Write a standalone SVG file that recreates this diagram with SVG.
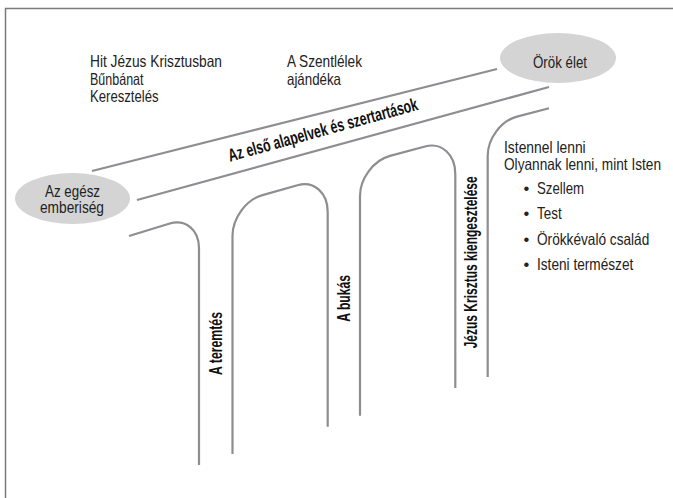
<svg xmlns="http://www.w3.org/2000/svg" width="673" height="498" viewBox="0 0 673 498">
<style>
.conn{fill:none;stroke:#8e8e92;stroke-width:2.2;stroke-linecap:butt;}
.node{fill:#d4d4d4;stroke:none;}
.t{font-family:"Liberation Sans Narrow","Liberation Sans",Arial,sans-serif;font-size:16.5px;fill:#222;}
.b{font-family:"Liberation Sans Narrow","Liberation Sans",Arial,sans-serif;font-size:18px;font-weight:bold;fill:#111;}
</style>
<rect x="0" y="0" width="673" height="498" fill="#fff"/>
<path d="M5.5,498 L5.5,8.5 L673,8.5" fill="none" stroke="#7a7a7a" stroke-width="1.5"/>
<g id="connectors">
<line class="conn" x1="92" y1="171" x2="497" y2="69"/>
<line class="conn" x1="137" y1="200" x2="549" y2="87"/>
<path class="conn" d="M129,236 L169,223.7 C185.5,218.6 199,229.7 199,248 L199,465"/>
<path class="conn" d="M232.5,454 L232.5,236 C232.5,218.1 246,199.7 262.5,195.1 L297.5,185.2 C314.1,180.5 327.7,192.6 327.7,212 L327.7,426.7"/>
<path class="conn" d="M360,415.7 L360,196 C360,178.4 373.5,160.4 390,155.9 L425,146.5 C441.7,142 455.3,154.4 455.3,174 L455.3,388"/>
<path class="conn" d="M487.7,377 L487.7,156 C487.7,138.5 500.9,120.8 517,116.6 L549,108.3"/>
</g>
<g id="node-emberiseg">
<ellipse class="node" cx="72.5" cy="198.5" rx="57.5" ry="25.5"/>
<text class="t" x="45" y="196.7" textLength="55" lengthAdjust="spacingAndGlyphs">Az egész</text>
<text class="t" x="40" y="213.3" textLength="64" lengthAdjust="spacingAndGlyphs">emberiség</text>
</g>
<g id="node-orok-elet">
<ellipse class="node" cx="558" cy="58" rx="58" ry="25"/>
<text class="t" x="533" y="68" textLength="54" lengthAdjust="spacingAndGlyphs">Örök élet</text>
</g>
<g id="label-hit">
<text class="t" x="90" y="67" textLength="132" lengthAdjust="spacingAndGlyphs">Hit Jézus Krisztusban</text>
<text class="t" x="90" y="84.5" textLength="53.5" lengthAdjust="spacingAndGlyphs">Bűnbánat</text>
<text class="t" x="90" y="102" textLength="68.5" lengthAdjust="spacingAndGlyphs">Keresztelés</text>
</g>
<g id="label-szentlelek">
<text class="t" x="287" y="67" textLength="75" lengthAdjust="spacingAndGlyphs">A Szentlélek</text>
<text class="t" x="287" y="84.5" textLength="54" lengthAdjust="spacingAndGlyphs">ajándéka</text>
</g>
<g id="label-alapelvek">
<text class="b" x="0" y="0" transform="translate(230,161.7) rotate(-15.4)" textLength="196" lengthAdjust="spacingAndGlyphs">Az első alapelvek és szertartások</text>
</g>
<g id="label-teremtes">
<text class="b" x="0" y="0" transform="translate(222,375) rotate(-90)" textLength="63" lengthAdjust="spacingAndGlyphs">A teremtés</text>
</g>
<g id="label-bukas">
<text class="b" x="0" y="0" transform="translate(350,321.7) rotate(-90)" textLength="46.7" lengthAdjust="spacingAndGlyphs">A bukás</text>
</g>
<g id="label-kiengesztelese">
<text class="b" x="0" y="0" transform="translate(477.3,348.3) rotate(-90)" textLength="172" lengthAdjust="spacingAndGlyphs">Jézus Krisztus kiengesztelése</text>
</g>
<g id="label-istennel">
<text class="t" x="504" y="153.3" textLength="81.7" lengthAdjust="spacingAndGlyphs">Istennel lenni</text>
<text class="t" x="504" y="170" textLength="157" lengthAdjust="spacingAndGlyphs">Olyannak lenni, mint Isten</text>
<text class="t" x="523.5" y="194">•</text>
<text class="t" x="537" y="194" textLength="47" lengthAdjust="spacingAndGlyphs">Szellem</text>
<text class="t" x="523.5" y="219.3">•</text>
<text class="t" x="537" y="219.3" textLength="24.7" lengthAdjust="spacingAndGlyphs">Test</text>
<text class="t" x="523.5" y="245">•</text>
<text class="t" x="537" y="245" textLength="112.3" lengthAdjust="spacingAndGlyphs">Örökkévaló család</text>
<text class="t" x="523.5" y="270">•</text>
<text class="t" x="537" y="270" textLength="96.3" lengthAdjust="spacingAndGlyphs">Isteni természet</text>
</g>
</svg>
